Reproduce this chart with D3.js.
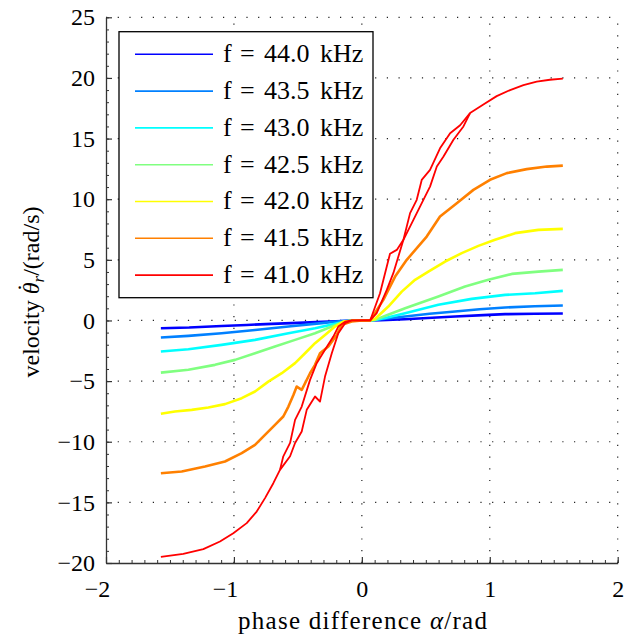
<!DOCTYPE html>
<html>
<head>
<meta charset="utf-8">
<script src="https://cdn.jsdelivr.net/npm/d3@7"></script>
<style>
    body { margin: 0; background: #fff; }
    svg text { font-family: "Liberation Serif", "DejaVu Serif", "Times New Roman", Times, serif; fill: #000; }
</style>
</head>
<body>
<div id="chart-wrap"></div>
<script>
// series labels and colours (jet-like colormap)
const frequencies = ['44.0', '43.5', '43.0', '42.5', '42.0', '41.5', '41.0'];
const lineColors = ['#0000ff', '#0080ff', '#00ffff', '#80ff80', '#ffff00', '#ff8000', '#ff0000'];

const xTicks = [-2, -1, 0, 1, 2];
const yTicks = [-20, -15, -10, -5, 0, 5, 10, 15, 20, 25];

// [phase difference alpha (rad), velocity (rad/s)]
const v44_0 = [[-1.571, -0.64], [-1.35, -0.58], [-1.096, -0.45], [-0.9, -0.37], [-0.705, -0.28], [-0.5, -0.2],
    [-0.313, -0.12], [-0.15, -0.04], [-0.05, 0], [0.06, 0], [0.15, 0.03], [0.338, 0.1], [0.55, 0.22], [0.729, 0.33],
    [0.95, 0.44], [1.12, 0.52], [1.35, 0.56], [1.571, 0.58]];

const v43_5 = [[-1.571, -1.41], [-1.356, -1.27], [-1.096, -1.05], [-0.835, -0.78], [-0.574, -0.5], [-0.313, -0.22],
    [-0.157, -0.05], [-0.05, 0], [0.06, 0], [0.15, 0.1], [0.338, 0.33], [0.53, 0.55], [0.729, 0.74], [0.92, 0.92],
    [1.12, 1.07], [1.35, 1.17], [1.571, 1.23]];

const v43_0 = [[-1.571, -2.56], [-1.356, -2.37], [-1.096, -2.01], [-0.835, -1.6], [-0.574, -1.05], [-0.366, -0.64],
    [-0.184, -0.22], [-0.08, 0], [0.06, 0], [0.103, 0.05], [0.2, 0.25], [0.338, 0.6], [0.598, 1.29], [0.859, 1.78],
    [1.12, 2.11], [1.354, 2.25], [1.571, 2.44]];

const v42_5 = [[-1.571, -4.3], [-1.356, -4.07], [-1.148, -3.66], [-0.991, -3.25], [-0.835, -2.7], [-0.679, -2.15],
    [-0.522, -1.6], [-0.366, -1.05], [-0.235, -0.5], [-0.131, -0.09], [-0.06, 0], [0.06, 0], [0.103, 0.05],
    [0.2, 0.45], [0.338, 1.0], [0.598, 1.97], [0.807, 2.8], [0.989, 3.35], [1.172, 3.84], [1.38, 4.03], [1.571, 4.17]];

const v42_0 = [[-1.571, -7.7], [-1.461, -7.51], [-1.33, -7.37], [-1.2, -7.18], [-1.07, -6.9], [-0.939, -6.41],
    [-0.835, -5.86], [-0.731, -5.04], [-0.626, -4.35], [-0.522, -3.52], [-0.444, -2.7], [-0.366, -1.87],
    [-0.288, -1.19], [-0.21, -0.5], [-0.145, -0.09], [-0.06, 0], [0.06, 0], [0.1, 0.1], [0.207, 1.15],
    [0.312, 2.38], [0.416, 3.35], [0.52, 4.03], [0.651, 4.86], [0.781, 5.55], [0.911, 6.15], [1.041, 6.65],
    [1.198, 7.2], [1.38, 7.47], [1.571, 7.55]];

const v41_5 = [[-1.571, -12.6], [-1.408, -12.46], [-1.226, -12.05], [-1.07, -11.63], [-0.939, -10.94],
    [-0.835, -10.26], [-0.757, -9.43], [-0.679, -8.61], [-0.614, -7.92], [-0.574, -7.1], [-0.535, -6.14],
    [-0.509, -5.45], [-0.47, -5.72], [-0.405, -4.35], [-0.366, -3.66], [-0.327, -2.7], [-0.262, -2.15],
    [-0.196, -1.19], [-0.157, -0.36], [-0.079, -0.09], [0, 0], [0.065, 0], [0.168, 1.7], [0.26, 3.62],
    [0.351, 5.0], [0.507, 6.92], [0.611, 8.57], [0.742, 9.67], [0.872, 10.77], [1.002, 11.6], [1.133, 12.15],
    [1.289, 12.48], [1.446, 12.69], [1.571, 12.77]];

const v41_0 = [[-1.571, -19.5], [-1.396, -19.25], [-1.239, -18.86], [-1.109, -18.23], [-1.005, -17.54],
    [-0.9, -16.71], [-0.822, -15.76], [-0.757, -14.65], [-0.692, -13.42], [-0.64, -12.32], [-0.614, -11.2],
    [-0.561, -10.1], [-0.522, -8.2], [-0.47, -7.1], [-0.405, -4.9], [-0.353, -3.52], [-0.288, -2.42],
    [-0.223, -1.33], [-0.184, -0.5], [-0.131, -0.1], [-0.08, 0], [0.065, 0], [0.142, 2.25], [0.22, 5.5],
    [0.273, 5.82], [0.325, 6.65], [0.377, 8.85], [0.429, 9.95], [0.468, 11.59], [0.533, 12.42], [0.611, 14.2],
    [0.69, 15.44], [0.768, 16.1], [0.846, 17.1], [0.95, 17.8], [1.054, 18.5], [1.159, 19.0], [1.263, 19.4],
    [1.367, 19.7], [1.47, 19.85], [1.571, 19.95]];

// second sweep of the 41.0 kHz run where it separates from the first
const v41_0back = [[-0.64, -12.32], [-0.561, -11.2], [-0.522, -10.1], [-0.47, -9.16], [-0.431, -7.37],
    [-0.366, -6.27], [-0.327, -6.69], [-0.288, -4.63], [-0.235, -2.7], [-0.184, -1.05], [-0.131, -0.22],
    [-0.08, 0], [0.065, 0], [0.116, 0.6], [0.195, 2.52], [0.246, 3.9], [0.325, 6.65], [0.403, 8.3],
    [0.481, 9.95], [0.533, 11.04], [0.586, 12.69], [0.637, 13.5], [0.716, 14.9], [0.794, 16.0], [0.846, 17.1]];

const seriesValues = [v44_0, v43_5, v43_0, v42_5, v42_0, v41_5, v41_0];

class PhaseChart {

    constructor() {
        this.chart = {
            "width": 641,
            "height": 639,
            "left": 106,
            "right": 617.7,
            "top": 17.3,
            "bottom": 563
        };

        this.xScale = d3.scaleLinear()
            .domain([-2, 2])
            .range([this.chart.left, this.chart.right]);

        this.yScale = d3.scaleLinear()
            .domain([-20, 25])
            .range([this.chart.bottom, this.chart.top]);
    }

    initPlot() {
        this.svg = d3.select('#chart-wrap')
            .append('svg')
            .attr('width', this.chart.width)
            .attr('height', this.chart.height);

        this.drawGrid();
        this.drawAxes();
        this.drawLines();
        this.drawLegend();
        this.drawLabels();
    }

    drawGrid() {
        let that = this;
        let grid = this.svg.append('g').attr('id', 'grid');

        grid.selectAll('.vgrid')
            .data(xTicks.slice(1))
            .join('line')
                .attr('class', 'vgrid')
                .attr('x1', d => that.xScale(d))
                .attr('x2', d => that.xScale(d))
                .attr('y1', this.chart.bottom)
                .attr('y2', this.chart.top)
                .attr('stroke', '#222')
                .attr('stroke-width', 1.2)
                .attr('stroke-dasharray', '1.2 10.5');

        grid.selectAll('.hgrid')
            .data(yTicks.slice(1))
            .join('line')
                .attr('class', 'hgrid')
                .attr('x1', this.chart.left)
                .attr('x2', this.chart.right)
                .attr('y1', d => that.yScale(d))
                .attr('y2', d => that.yScale(d))
                .attr('stroke', '#222')
                .attr('stroke-width', 1.2)
                .attr('stroke-dasharray', '1.2 10.5');
    }

    drawAxes() {
        // minor ticks
        this.svg.append('g')
            .attr('transform', `translate(0, ${this.chart.bottom})`)
            .call(d3.axisBottom(this.xScale)
                .tickValues(d3.range(-20, 21).map(d => d / 10))
                .tickSizeInner(-3).tickSizeOuter(0).tickFormat(''))
            .call(g => g.select('.domain').remove())
            .selectAll('line').attr('stroke', '#333');

        this.svg.append('g')
            .attr('transform', `translate(${this.chart.left}, 0)`)
            .call(d3.axisLeft(this.yScale)
                .tickValues(d3.range(-20, 26))
                .tickSizeInner(-3).tickSizeOuter(0).tickFormat(''))
            .call(g => g.select('.domain').remove())
            .selectAll('line').attr('stroke', '#333');

        // major ticks + labels
        let xAxis = this.svg.append('g')
            .attr('transform', `translate(0, ${this.chart.bottom})`)
            .call(d3.axisBottom(this.xScale)
                .tickValues(xTicks).tickFormat(d3.format('d'))
                .tickSizeInner(-6).tickSizeOuter(0).tickPadding(17));

        // keep the digit centred under the tick, minus sign hangs left
        xAxis.selectAll('.tick text')
            .attr('dx', d => d < 0 ? -9 : 0);

        let yAxis = this.svg.append('g')
            .attr('transform', `translate(${this.chart.left}, 0)`)
            .call(d3.axisLeft(this.yScale)
                .tickValues(yTicks).tickFormat(d3.format('d'))
                .tickSizeInner(-6).tickSizeOuter(0).tickPadding(11));

        [xAxis, yAxis].forEach(ax => {
            ax.attr('font-family', null).attr('font-size', 24);
            ax.select('.domain').attr('stroke', '#333').attr('stroke-width', 1.3);
            ax.selectAll('line').attr('stroke', '#333').attr('stroke-width', 1.2);
        });
    }

    drawLines() {
        let that = this;
        let line = d3.line()
            .x(d => that.xScale(d[0]))
            .y(d => that.yScale(d[1]));

        let lines = this.svg.append('g').attr('id', 'lines');

        lines.selectAll('path')
            .data(seriesValues)
            .join('path')
                .attr('d', d => line(d))
                .attr('fill', 'none')
                .attr('stroke', (d, i) => lineColors[i])
                .attr('stroke-width', (d, i) => i === 6 ? 1.8 : 2.6)
                .attr('stroke-linejoin', 'round');

        lines.append('path')
            .attr('d', line(v41_0back))
            .attr('fill', 'none')
            .attr('stroke', lineColors[6])
            .attr('stroke-width', 1.8)
            .attr('stroke-linejoin', 'round');
    }

    drawLegend() {
        let legend = this.svg.append('g').attr('id', 'legend');

        legend.append('rect')
            .attr('x', 119)
            .attr('y', 31.7)
            .attr('width', 254)
            .attr('height', 266)
            .attr('fill', '#fff')
            .attr('stroke', '#000')
            .attr('stroke-width', 1.3);

        let rows = legend.selectAll('.row')
            .data(frequencies)
            .join('g')
                .attr('class', 'row')
                .attr('transform', (d, i) => `translate(0, ${54.3 + i * 36.8})`);

        rows.append('line')
            .attr('x1', 135)
            .attr('x2', 213)
            .attr('stroke', (d, i) => lineColors[i])
            .attr('stroke-width', 1.6);

        // math-style spacing around "="
        let label = rows.append('text')
            .attr('dy', '0.3em')
            .attr('font-size', 26);
        label.append('tspan').attr('x', 223).text('f');
        label.append('tspan').attr('x', 240).text('=');
        label.append('tspan').attr('x', 264).text(d => d);
        label.append('tspan').attr('x', 320).text('kHz');
    }

    drawLabels() {
        let xLabel = this.svg.append('text')
            .attr('x', 238)
            .attr('y', 629)
            .attr('font-size', 25)
            .attr('textLength', 249)
            .attr('lengthAdjust', 'spacing');
        xLabel.append('tspan').text('phase difference ');
        xLabel.append('tspan').attr('font-style', 'italic').text('α');
        xLabel.append('tspan').text('/rad');

        let yLabel = this.svg.append('text')
            .attr('transform', 'translate(39, 292) rotate(-90)')
            .attr('text-anchor', 'middle')
            .attr('font-size', 24);
        yLabel.append('tspan').text('velocity ');
        yLabel.append('tspan').attr('font-style', 'italic').text('θ');
        yLabel.append('tspan').attr('dx', -9).attr('dy', -5).text('\u02D9');
        yLabel.append('tspan').attr('font-style', 'italic').attr('font-size', 17).attr('dx', 1).attr('dy', 10).text('r');
        yLabel.append('tspan').attr('dy', -5).text('/(rad/s)');
    }
}

let chart = new PhaseChart();
chart.initPlot();
</script>
</body>
</html>
